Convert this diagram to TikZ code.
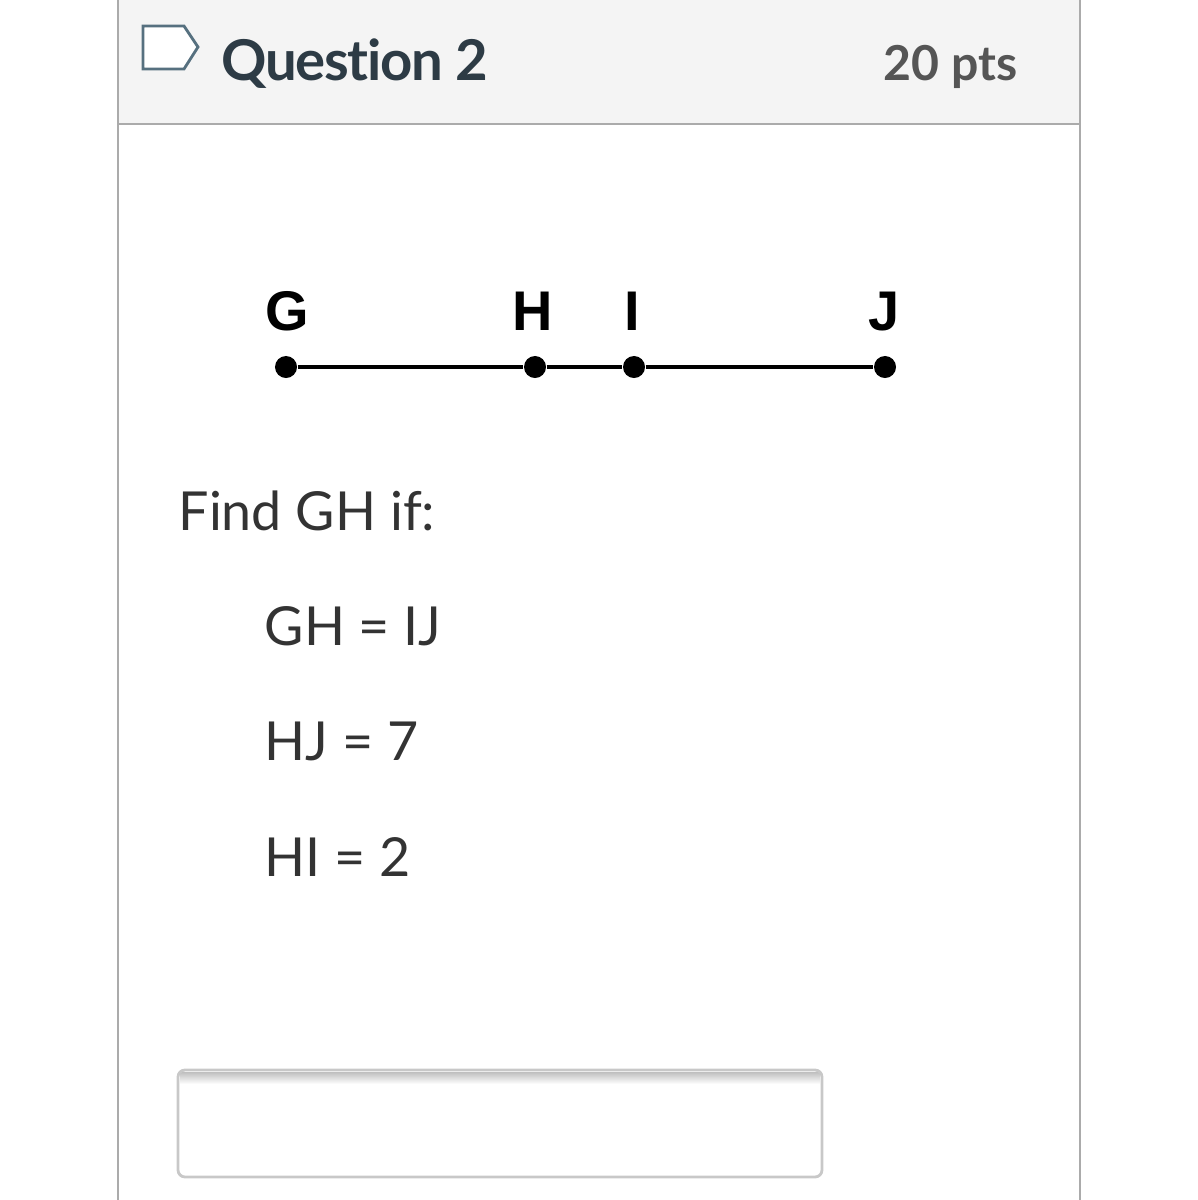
\documentclass[tikz,border=0pt]{standalone}
\usepackage{fontspec}
\setmainfont{Lato}[Ligatures=NoCommon]
\newfontfamily\arialfont{Liberation Sans}
\newfontfamily\titlefont{Lato}[Ligatures=NoCommon, LetterSpace=-2.5]
\usetikzlibrary{positioning}
\definecolor{hdrgray}{HTML}{F4F4F4}
\definecolor{framegray}{HTML}{ABABAB}
\definecolor{inkdark}{HTML}{2D3B45}
\definecolor{ptsgray}{HTML}{555555}
\definecolor{textgray}{HTML}{333333}
\definecolor{iconblue}{HTML}{56707F}
\definecolor{boxgray}{HTML}{C8C8C8}
\tikzset{
  frame/.style={framegray, line width=0.75pt},
  dot/.style={circle, fill=black, inner sep=0pt, minimum size=0.22cm},
  seg/.style={line width=1.15pt},
  ptlabel/.style={anchor=base, inner sep=0pt, font=\arialfont\bfseries\fontsize{15.9}{18}\selectfont},
  qtext/.style={anchor=base west, inner sep=0pt, textgray, font=\fontsize{15.3}{19}\selectfont},
}

\begin{document}
\begin{tikzpicture}[x=0.01cm, y=-0.01cm]
  %%%%% START %%%%%
  \useasboundingbox (0,0) rectangle (1198,1200);

  % header
  \fill[hdrgray] (118,0) rectangle (1080,124);
  \draw[frame] (118,124) -- (1080,124);
  \draw[frame] (118,0) -- (118,1200);
  \draw[frame] (1080,0) -- (1080,1200);

  \draw[iconblue, fill=white, line width=0.8pt, line join=miter]
    (143,26) -- (184,26) -- (198,47) -- (184,69) -- (143,69) -- cycle;
  \node[anchor=base west, inner sep=0pt, inkdark, font=\titlefont\bfseries\fontsize{16}{20}\selectfont]
    (title) at (221,80) {Question 2};
  \node[anchor=base east, inner sep=0pt, ptsgray, font=\bfseries\fontsize{13.7}{17}\selectfont]
    (pts) at (1018,80) {20 pts};

  % segment
  \node[dot] (G) at (286,367) {};
  \node[dot] (H) at (535,367) {};
  \node[dot] (I) at (634,367) {};
  \node[dot] (J) at (885,367) {};
  \draw[seg] (G) -- (H) -- (I) -- (J);

  \node[ptlabel] (lG) at (287,330) {G};
  \node[ptlabel] (lH) at (533,330) {H};
  \node[ptlabel] (lI) at (632,330) {I};
  \node[ptlabel] (lJ) at (884,330) {J};

  % question text
  \node[qtext] (find) at (178,530) {Find GH if:};
  \node[qtext] (c1) at (264,645) {GH = IJ};
  \node[qtext] (c2) at (264,760) {HJ = 7};
  \node[qtext] (c3) at (264,876) {HI = 2};

  % answer box
  \shade[top color=black!25, bottom color=white] (180,1072) rectangle (820,1084);
  \draw[boxgray, line width=0.8pt, rounded corners=0.07cm] (178,1070) rectangle (822,1177);

  %%%%% END %%%%%
\end{tikzpicture}
\end{document}
